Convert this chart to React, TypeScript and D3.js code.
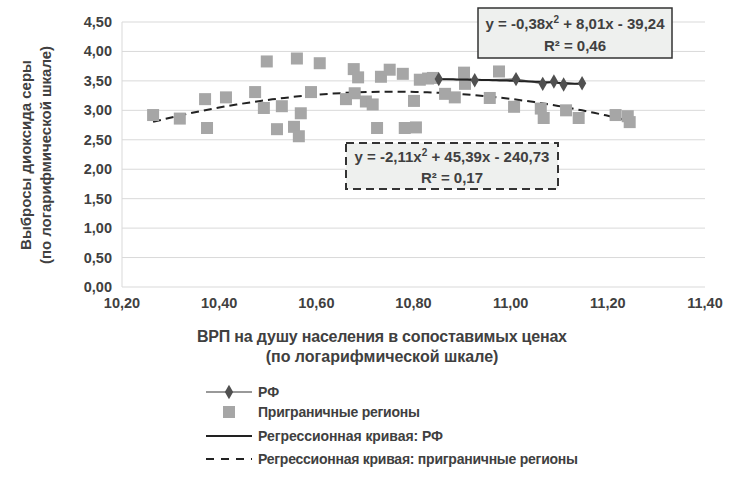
import React from "react";
import * as d3 from "d3";

const borderX = [10.264,10.319,10.371,10.375,10.414,10.474,10.492,10.498,10.519,10.529,10.554,10.56,10.564,10.568,10.589,10.607,10.661,10.677,10.679,10.686,10.702,10.716,10.725,10.733,10.751,10.778,10.782,10.801,10.805,10.813,10.83,10.84,10.865,10.885,10.904,10.906,10.957,10.976,11.007,11.062,11.068,11.114,11.14,11.216,11.241,11.245];
const borderY = [2.92,2.86,3.19,2.70,3.22,3.31,3.04,3.83,2.68,3.07,2.72,3.88,2.56,2.95,3.31,3.80,3.19,3.70,3.29,3.56,3.15,3.10,2.70,3.57,3.69,3.62,2.70,3.16,2.71,3.52,3.54,3.55,3.28,3.22,3.64,3.45,3.21,3.66,3.06,3.03,2.87,3.00,2.87,2.92,2.90,2.80];
const rfX = [10.852,10.926,11.011,11.066,11.089,11.109,11.147];
const rfY = [3.53,3.51,3.53,3.45,3.49,3.44,3.46];
const yTicks = [0,0.5,1,1.5,2,2.5,3,3.5,4,4.5];
const xTicks = [10.2,10.4,10.6,10.8,11.0,11.2,11.4];

function quadFit(xs: number[], ys: number[]) {
  const m = d3.mean(xs)!;
  const S = Array(5).fill(0), T = Array(3).fill(0);
  xs.forEach((x0, i) => { const x = x0 - m; for (let k = 0; k < 5; k++) S[k] += x ** k; for (let k = 0; k < 3; k++) T[k] += ys[i] * x ** k; });
  const A = [[S[0],S[1],S[2],T[0]],[S[1],S[2],S[3],T[1]],[S[2],S[3],S[4],T[2]]];
  for (let i = 0; i < 3; i++) { for (let j = i + 1; j < 3; j++) { const f = A[j][i] / A[i][i]; for (let k = i; k < 4; k++) A[j][k] -= f * A[i][k]; } }
  const c = [0,0,0];
  for (let i = 2; i >= 0; i--) { let s = A[i][3]; for (let k = i + 1; k < 3; k++) s -= A[i][k] * c[k]; c[i] = s / A[i][i]; }
  return (x: number) => c[0] + c[1] * (x - m) + c[2] * (x - m) ** 2;
}

export default function App() {
  const x = d3.scaleLinear().domain([10.2, 11.4]).range([122, 705]);
  const y = d3.scaleLinear().domain([0, 4.5]).range([287, 22]);
  const fb = quadFit(borderX, borderY), fr = quadFit(rfX, rfY);
  const samp = (a: number, b: number, f: (v: number) => number) => d3.range(0, 41).map(i => { const v = a + (b - a) * i / 40; return [x(v), y(f(v))] as [number, number]; });
  const line = d3.line();
  const ft = "'Liberation Sans Narrow','Liberation Sans',Arial,sans-serif";
  const c = "#404040";
  const diamond = d3.symbol(d3.symbolDiamond, 60)()!;
  return (
    <svg width={733} height={483} style={{ position: "absolute", left: 0, top: 0, background: "#fff" }} fontFamily={ft} fontWeight="bold" fill={c}>
      {yTicks.map(t => <line key={t} x1={122} x2={705} y1={y(t)} y2={y(t)} stroke="#d9d9d9" />)}
      <line x1={122} x2={122} y1={22} y2={287} stroke="#d9d9d9" />
      {yTicks.map(t => <text key={t} x={112} y={y(t) + 5} textAnchor="end" fontSize={14.5}>{d3.format(".2f")(t).replace(".", ",")}</text>)}
      {xTicks.map(t => <text key={t} x={x(t)} y={308} textAnchor="middle" fontSize={14.5}>{d3.format(".2f")(t).replace(".", ",")}</text>)}
      <path d={line(samp(10.264, 11.245, fb))!} fill="none" stroke="#222" strokeWidth={2} strokeDasharray="8,5" />
      {borderX.map((v, i) => <rect key={i} x={x(v) - 6} y={y(borderY[i]) - 6} width={12} height={12} fill="#a6a6a6" />)}
      <path d={line(rfX.map((v, i) => [x(v), y(rfY[i])]))!} fill="none" stroke="#777" strokeWidth={1.5} />
      <path d={line(samp(10.852, 11.147, fr))!} fill="none" stroke="#222" strokeWidth={2} />
      {rfX.map((v, i) => <path key={i} d={diamond} transform={`translate(${x(v)},${y(rfY[i])})`} fill="#505050" />)}
      <rect x={478} y={8} width={194} height={50} fill="#eef0ee" stroke="#333" strokeWidth={1.5} />
      <text x={575} y={29} textAnchor="middle" fontSize={15}>y = -0,38x<tspan fontSize={10} dy={-6}>2</tspan><tspan dy={6}> + 8,01x - 39,24</tspan></text>
      <text x={575} y={51} textAnchor="middle" fontSize={15}>R² = 0,46</text>
      <rect x={346} y={143} width={212} height={46} fill="#eef0ee" stroke="#333" strokeWidth={2} strokeDasharray="8,5" />
      <text x={452} y={162} textAnchor="middle" fontSize={15}>y = -2,11x<tspan fontSize={10} dy={-6}>2</tspan><tspan dy={6}> + 45,39x - 240,73</tspan></text>
      <text x={452} y={183} textAnchor="middle" fontSize={15}>R² = 0,17</text>
      <text transform="translate(31,155) rotate(-90)" textAnchor="middle" fontSize={15}>Выбросы диоксида серы</text>
      <text transform="translate(51,155) rotate(-90)" textAnchor="middle" fontSize={15}>(по логарифмической шкале)</text>
      <text x={382} y={342} textAnchor="middle" fontSize={16} textLength={370}>ВРП на душу населения в сопоставимых ценах</text>
      <text x={382} y={362} textAnchor="middle" fontSize={16}>(по логарифмической шкале)</text>
      <line x1={206} x2={252} y1={392} y2={392} stroke="#777" strokeWidth={1.5} />
      <path d={diamond} transform="translate(229,392)" fill="#505050" />
      <text x={258} y={397} fontSize={14}>РФ</text>
      <rect x={223} y={406} width={12} height={12} fill="#a6a6a6" />
      <text x={258} y={417} fontSize={14} textLength={162}>Приграничные регионы</text>
      <line x1={206} x2={252} y1={436} y2={436} stroke="#222" strokeWidth={2} />
      <text x={258} y={441} fontSize={14} textLength={185}>Регрессионная кривая: РФ</text>
      <line x1={206} x2={252} y1={459} y2={459} stroke="#222" strokeWidth={2} strokeDasharray="8,7" />
      <text x={258} y={464} fontSize={14} textLength={320}>Регрессионная кривая: приграничные регионы</text>
    </svg>
  );
}
